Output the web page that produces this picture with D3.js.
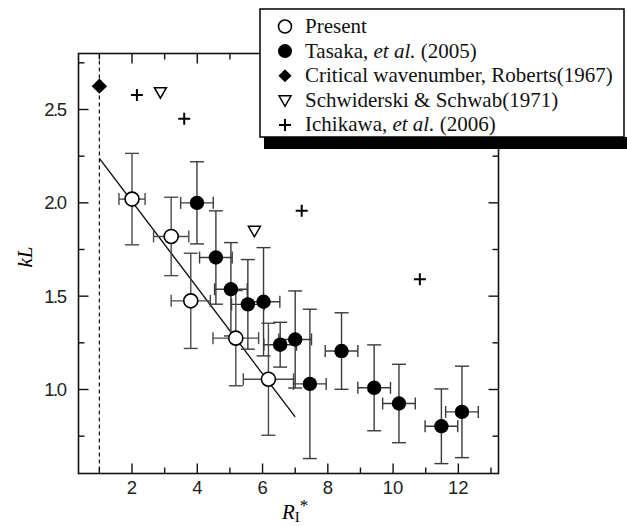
<!DOCTYPE html>
<html>
<head>
<meta charset="utf-8">
<script src="https://cdn.jsdelivr.net/npm/d3@7"></script>
<style>
  body { margin: 0; background: #fff; }
  .tick-label { font-family: "Liberation Sans", Arial, sans-serif; font-size: 18.5px; fill: #222; }
  .serif { font-family: "Liberation Serif", "Times New Roman", serif; }
</style>
</head>
<body>
<div id="chart"></div>
<script>
// Present (open circles)
const presentX    = [2.0, 3.2, 3.8, 5.18, 6.18];
const presentY    = [2.02, 1.82, 1.475, 1.275, 1.055];
const presentXErr = [0.4, 0.54, 0.6, 0.7, 0.77];
const presentYErr = [0.245, 0.21, 0.255, 0.255, 0.30];

// Tasaka et al. (2005) (filled circles)
const tasakaX    = [3.99, 4.57, 5.03, 5.55, 6.03, 6.54, 7.0, 7.45, 8.42, 9.42, 10.18, 11.48, 12.11];
const tasakaY    = [2.0, 1.707, 1.537, 1.456, 1.47, 1.24, 1.268, 1.03, 1.206, 1.009, 0.925, 0.803, 0.88];
const tasakaXErr = [0.5, 0.5, 0.5, 0.5, 0.5, 0.5, 0.5, 0.5, 0.5, 0.5, 0.5, 0.5, 0.5];
const tasakaYErr = [0.22, 0.25, 0.25, 0.24, 0.29, 0.12, 0.26, 0.40, 0.205, 0.23, 0.21, 0.2, 0.245];

// Critical wavenumber, Roberts (1967)
const robertsX = [1.0];
const robertsY = [2.625];

// Schwiderski & Schwab (1971)
const schwidX = [2.87, 5.75];
const schwidY = [2.593, 1.85];

// Ichikawa et al. (2006)
const ichiX = [2.15, 3.6, 7.2, 10.82];
const ichiY = [2.578, 2.45, 1.957, 1.59];

// fitted line end points
const fitX = [1.0, 7.0];
const fitY = [2.238, 0.853];

const xTicks = [2, 4, 6, 8, 10, 12];
const xMinor = [1, 3, 5, 7, 9, 11, 13];
const yTicks = [1.0, 1.5, 2.0, 2.5];
const yMinor = [0.75, 1.25, 1.75, 2.25, 2.75];

const legendLabels = [
  [["Present", false]],
  [["Tasaka, ", false], ["et al.", true], [" (2005)", false]],
  [["Critical wavenumber, Roberts(1967)", false]],
  [["Schwiderski & Schwab(1971)", false]],
  [["Ichikawa, ", false], ["et al.", true], [" (2006)", false]]
];

const W = 627, H = 526;
const pLeft = 78.5, pRight = 498.5, pTop = 53.5, pBottom = 473.5;

const svg = d3.select("#chart").append("svg")
  .attr("width", W).attr("height", H);

const x = d3.scaleLinear().domain([0.36, 13.23]).range([pLeft, pRight]);
const y = d3.scaleLinear().domain([0.55, 2.8]).range([pBottom, pTop]);

// frame
svg.append("rect")
  .attr("x", pLeft).attr("y", pTop)
  .attr("width", pRight - pLeft).attr("height", pBottom - pTop)
  .attr("fill", "none").attr("stroke", "#111").attr("stroke-width", 1.6);

// ticks (all inward)
const tickG = svg.append("g").attr("stroke", "#111").attr("stroke-width", 1.4);
xTicks.forEach(v => {
  tickG.append("line").attr("x1", x(v)).attr("x2", x(v)).attr("y1", pBottom).attr("y2", pBottom - 10);
  tickG.append("line").attr("x1", x(v)).attr("x2", x(v)).attr("y1", pTop).attr("y2", pTop + 10);
});
xMinor.forEach(v => {
  tickG.append("line").attr("x1", x(v)).attr("x2", x(v)).attr("y1", pBottom).attr("y2", pBottom - 6);
  tickG.append("line").attr("x1", x(v)).attr("x2", x(v)).attr("y1", pTop).attr("y2", pTop + 6);
});
yTicks.forEach(v => {
  tickG.append("line").attr("x1", pLeft).attr("x2", pLeft + 10).attr("y1", y(v)).attr("y2", y(v));
  tickG.append("line").attr("x1", pRight).attr("x2", pRight - 10).attr("y1", y(v)).attr("y2", y(v));
});
yMinor.forEach(v => {
  tickG.append("line").attr("x1", pLeft).attr("x2", pLeft + 6).attr("y1", y(v)).attr("y2", y(v));
  tickG.append("line").attr("x1", pRight).attr("x2", pRight - 6).attr("y1", y(v)).attr("y2", y(v));
});

// tick labels
svg.selectAll(".xl").data(xTicks).enter().append("text")
  .attr("class", "tick-label")
  .attr("x", d => x(d)).attr("y", pBottom + 20.5)
  .attr("text-anchor", "middle")
  .text(d => d);
svg.selectAll(".yl").data(yTicks).enter().append("text")
  .attr("class", "tick-label")
  .attr("x", pLeft - 13).attr("y", d => y(d) + 6.5)
  .attr("text-anchor", "end")
  .style("letter-spacing", "-1.5px")
  .text(d => d.toFixed(1));

// axis titles
svg.append("text")
  .attr("class", "serif")
  .attr("transform", "translate(32,257) rotate(-90)")
  .attr("text-anchor", "middle")
  .style("font-size", "21px").style("font-style", "italic")
  .text("kL");

const xt = svg.append("text").attr("class", "serif")
  .attr("x", 282).attr("y", 519).style("font-size", "21px");
xt.append("tspan").style("font-style", "italic").text("R");
xt.append("tspan").attr("dy", 3).style("font-size", "15px").text("I");
xt.append("tspan").attr("dy", -11).style("font-size", "17px").text("*");

// dashed line at R = 1
svg.append("line")
  .attr("x1", x(1)).attr("x2", x(1)).attr("y1", pTop).attr("y2", pBottom)
  .attr("stroke", "#111").attr("stroke-width", 1.2).attr("stroke-dasharray", "4,3");

// fitted line
svg.append("line")
  .attr("x1", x(fitX[0])).attr("y1", y(fitY[0]))
  .attr("x2", x(fitX[1])).attr("y2", y(fitY[1]))
  .attr("stroke", "#111").attr("stroke-width", 1.4);

// error bars
function errorBars(xs, ys, xe, ye, color) {
  const g = svg.append("g").attr("stroke", color).attr("stroke-width", 1.4).attr("fill", "none");
  xs.forEach((xv, i) => {
    const cx = x(xv), cy = y(ys[i]);
    const y0 = y(ys[i] - ye[i]), y1 = y(ys[i] + ye[i]);
    const x0 = x(xv - xe[i]), x1 = x(xv + xe[i]);
    g.append("line").attr("x1", cx).attr("x2", cx).attr("y1", y0).attr("y2", y1);
    g.append("line").attr("x1", cx - 7).attr("x2", cx + 7).attr("y1", y0).attr("y2", y0);
    g.append("line").attr("x1", cx - 7).attr("x2", cx + 7).attr("y1", y1).attr("y2", y1);
    g.append("line").attr("x1", x0).attr("x2", x1).attr("y1", cy).attr("y2", cy);
    g.append("line").attr("x1", x0).attr("x2", x0).attr("y1", cy - 6).attr("y2", cy + 6);
    g.append("line").attr("x1", x1).attr("x2", x1).attr("y1", cy - 6).attr("y2", cy + 6);
  });
}
errorBars(presentX, presentY, presentXErr, presentYErr, "#4a4a4a");
errorBars(tasakaX, tasakaY, tasakaXErr, tasakaYErr, "#3a3a3a");

// markers
const diamond = d3.symbol().type(d3.symbolDiamond2).size(150);
const triDown = "M-6,-4.5L6,-4.5L0,6Z";
const plus = "M-6,0L6,0M0,-6L0,6";

svg.selectAll(".tas").data(tasakaX).enter().append("circle")
  .attr("cx", d => x(d)).attr("cy", (d, i) => y(tasakaY[i])).attr("r", 7.2)
  .attr("fill", "#000");
svg.selectAll(".pre").data(presentX).enter().append("circle")
  .attr("cx", d => x(d)).attr("cy", (d, i) => y(presentY[i])).attr("r", 7)
  .attr("fill", "#fff").attr("stroke", "#000").attr("stroke-width", 1.6);
svg.selectAll(".rob").data(robertsX).enter().append("path")
  .attr("d", diamond)
  .attr("transform", (d, i) => `translate(${x(d)},${y(robertsY[i])})`)
  .attr("fill", "#000");
svg.selectAll(".sch").data(schwidX).enter().append("path")
  .attr("d", triDown)
  .attr("transform", (d, i) => `translate(${x(d)},${y(schwidY[i])})`)
  .attr("fill", "#fff").attr("stroke", "#000").attr("stroke-width", 1.5);
svg.selectAll(".ich").data(ichiX).enter().append("path")
  .attr("d", plus)
  .attr("transform", (d, i) => `translate(${x(d)},${y(ichiY[i])})`)
  .attr("stroke", "#000").attr("stroke-width", 2);

// legend
const lg = svg.append("g");
lg.append("rect").attr("x", 264).attr("y", 137).attr("width", 363).attr("height", 12).attr("fill", "#000");
lg.append("rect").attr("x", 260).attr("y", 9).attr("width", 364).attr("height", 128)
  .attr("fill", "#fff").attr("stroke", "#000").attr("stroke-width", 1.5);

const legendSymbols = [
  g => g.append("circle").attr("r", 6.5).attr("fill", "#fff").attr("stroke", "#000").attr("stroke-width", 1.6),
  g => g.append("circle").attr("r", 7).attr("fill", "#000"),
  g => g.append("path").attr("d", d3.symbol().type(d3.symbolDiamond2).size(110)).attr("fill", "#000"),
  g => g.append("path").attr("d", triDown).attr("fill", "#fff").attr("stroke", "#000").attr("stroke-width", 1.5),
  g => g.append("path").attr("d", plus).attr("stroke", "#000").attr("stroke-width", 2)
];

legendLabels.forEach((parts, i) => {
  const yy = 33 + i * 24.6;
  const sg = lg.append("g").attr("transform", `translate(285,${yy - 6.5})`);
  legendSymbols[i](sg);
  const t = lg.append("text").attr("class", "serif")
    .attr("x", 305).attr("y", yy).style("font-size", "21px").attr("fill", "#111");
  parts.forEach(p => {
    t.append("tspan").style("font-style", p[1] ? "italic" : "normal").text(p[0]);
  });
});
</script>
</body>
</html>
